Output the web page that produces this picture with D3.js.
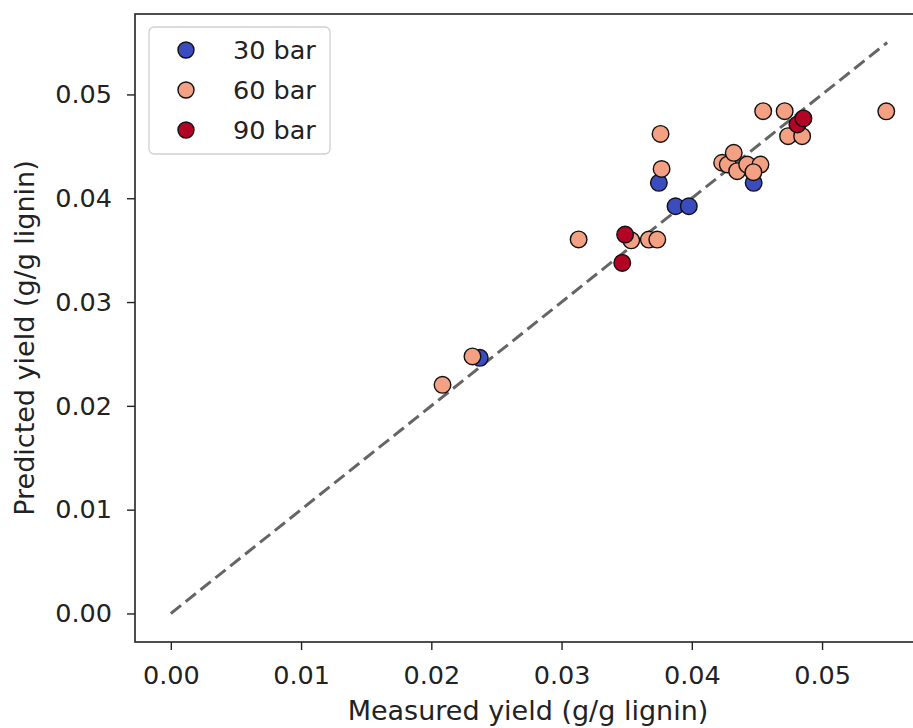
<!DOCTYPE html>
<html>
<head>
<meta charset="utf-8">
<script src="https://cdn.jsdelivr.net/npm/d3@7"></script>
<style>
  html, body { margin: 0; padding: 0; background: #fff; }
  svg { display: block; font-family: "DejaVu Sans", sans-serif; }
</style>
</head>
<body>
<svg id="chart" width="913" height="728"></svg>
<script>
// Measured vs. predicted yield, grouped by pressure
const seriesNames = ["30 bar", "60 bar", "90 bar"];
const seriesColors = ["#3b4cc0", "#f3a182", "#b40426"];

const measured30 = [0.02372, 0.03747, 0.03875, 0.03977, 0.04475];
const predicted30 = [0.02463, 0.04149, 0.03923, 0.03923, 0.04149];

const measured60 = [0.02086, 0.02316, 0.03131, 0.03535, 0.03670, 0.03735, 0.03760, 0.03768,
                    0.04233, 0.04276, 0.04322, 0.04348, 0.04425, 0.04527, 0.04473,
                    0.04548, 0.04713, 0.04739, 0.04847, 0.05493];
const predicted60 = [0.02203, 0.02476, 0.03603, 0.03595, 0.03602, 0.03602, 0.04620, 0.04282,
                     0.04342, 0.04325, 0.04438, 0.04261, 0.04325, 0.04325, 0.04251,
                     0.04839, 0.04839, 0.04598, 0.04598, 0.04837];

const measured90 = [0.03488, 0.03466, 0.04811, 0.04857];
const predicted90 = [0.03650, 0.03377, 0.04711, 0.04769];

const xTicks = [0.00, 0.01, 0.02, 0.03, 0.04, 0.05];
const yTicks = [0.00, 0.01, 0.02, 0.03, 0.04, 0.05];
const parityLine = [0, 0.055];

const xLabel = "Measured yield (g/g lignin)";
const yLabel = "Predicted yield (g/g lignin)";

const series = [
  { name: seriesNames[0], color: seriesColors[0], xs: measured30, ys: predicted30 },
  { name: seriesNames[1], color: seriesColors[1], xs: measured60, ys: predicted60 },
  { name: seriesNames[2], color: seriesColors[2], xs: measured90, ys: predicted90 }
];

const svg = d3.select("#chart");
const plot = { left: 135, right: 923, top: 14, bottom: 642 };
const TICK_FONT = 25.5;
const LABEL_FONT = 27;
const INK = "#222";

const x = d3.scaleLinear().domain([-0.00275, 0.05775]).range([plot.left, plot.right]);
const y = d3.scaleLinear().domain([-0.00275, 0.05775]).range([plot.bottom, plot.top]);

// parity line
svg.append("line")
  .attr("x1", x(parityLine[0])).attr("y1", y(parityLine[0]))
  .attr("x2", x(parityLine[1])).attr("y2", y(parityLine[1]))
  .attr("stroke", "#555").attr("stroke-width", 3)
  .attr("stroke-dasharray", "13,6").attr("opacity", 0.9);

// scatter points
series.forEach(s => {
  svg.append("g").selectAll("circle")
    .data(s.xs.map((v, i) => [v, s.ys[i]]))
    .join("circle")
    .attr("cx", d => x(d[0]))
    .attr("cy", d => y(d[1]))
    .attr("r", 8.3)
    .attr("fill", s.color)
    .attr("stroke", "#111")
    .attr("stroke-width", 1.4);
});

// axes
const xAxis = d3.axisBottom(x).tickValues(xTicks).tickFormat(d3.format(".2f"))
  .tickSize(8).tickPadding(16);
const yAxis = d3.axisLeft(y).tickValues(yTicks).tickFormat(d3.format(".2f"))
  .tickSize(8).tickPadding(15);

const gx = svg.append("g").attr("transform", `translate(0,${plot.bottom})`).call(xAxis);
const gy = svg.append("g").attr("transform", `translate(${plot.left},0)`).call(yAxis);
[gx, gy].forEach(g => {
  g.select(".domain").remove();
  g.selectAll(".tick line").attr("stroke", INK).attr("stroke-width", 1.4);
  g.selectAll(".tick text").attr("fill", INK).style("font-size", TICK_FONT + "px")
    .style("font-family", "DejaVu Sans");
});

// frame
svg.append("rect")
  .attr("x", plot.left).attr("y", plot.top)
  .attr("width", plot.right - plot.left).attr("height", plot.bottom - plot.top)
  .attr("fill", "none").attr("stroke", INK).attr("stroke-width", 1.6);

// axis titles
svg.append("text")
  .attr("x", 528).attr("y", 720)
  .attr("text-anchor", "middle").attr("fill", INK)
  .style("font-size", LABEL_FONT + "px").text(xLabel);

svg.append("text")
  .attr("transform", `translate(34,338) rotate(-90)`)
  .attr("text-anchor", "middle").attr("fill", INK)
  .style("font-size", LABEL_FONT + "px").text(yLabel);

// legend
const legend = svg.append("g").attr("transform", "translate(149,27)");
legend.append("rect")
  .attr("width", 181).attr("height", 127).attr("rx", 5)
  .attr("fill", "#fff").attr("fill-opacity", 0.85)
  .attr("stroke", "#d0d0d0").attr("stroke-width", 1.3);
series.forEach((s, i) => {
  const row = legend.append("g").attr("transform", `translate(0,${23 + i * 40})`);
  row.append("circle").attr("cx", 37).attr("cy", 0).attr("r", 8)
    .attr("fill", s.color).attr("stroke", "#111").attr("stroke-width", 1.4);
  row.append("text").attr("x", 84).attr("y", 0).attr("dy", "0.36em")
    .attr("fill", INK).style("font-size", TICK_FONT + "px").text(s.name);
});
</script>
</body>
</html>
